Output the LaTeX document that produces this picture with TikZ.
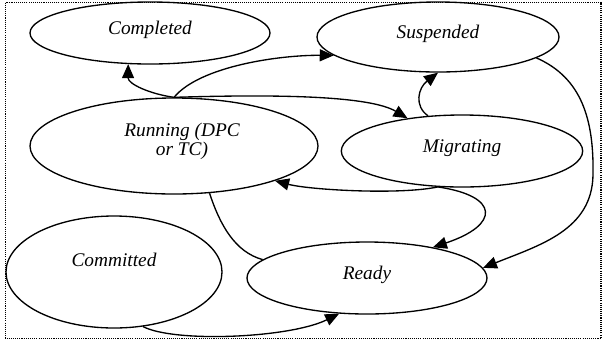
\documentclass[tikz,border=0pt]{standalone}
\usepackage{fontspec}
\setmainfont{Liberation Serif}
\usepackage{tikz}
\usetikzlibrary{shapes.geometric, arrows.meta}
\tikzset{>={Triangle[length=10.5pt,width=9pt]}}
\tikzset{state/.style={draw, ellipse, inner sep=0pt, font=\fontsize{14.5}{14.5}\selectfont\itshape, text height=10pt, text depth=7.5pt}}

\begin{document}
\begin{tikzpicture}[x=0.75pt, y=-0.75pt, line width=1pt]
			\useasboundingbox (0,0) rectangle (603,344);
			\draw [line width=0.8pt, dash pattern=on 0.8pt off 0.8pt] (5.5,2.5) rectangle (601,338.5);
			\node [state, minimum width=180pt, minimum height=46.5pt] (completed) at (150,33) {Completed};
			\node [state, minimum width=181.5pt, minimum height=52.5pt] (suspended) at (438,37) {Suspended};
			\node [state, minimum width=216pt, minimum height=72pt, align=center, text height={}, text depth=10pt] (running) at (174,146) {\hspace*{12pt}Running (DPC\\ \hspace*{12pt}or TC)};
			\node [state, minimum width=181pt, minimum height=54pt] (migrating) at (462,151) {Migrating};
			\node [state, minimum width=162pt, minimum height=84pt, text depth=18pt] (committed) at (114,272) {Committed};
			\node [state, minimum width=180pt, minimum height=54pt] (ready) at (367,278) {Ready};
			\draw [->] (running.north) .. controls (150,94) and (128,84) .. (completed.-125);
			\draw [->] (running.north) .. controls (200,66) and (280,55) .. (suspended.190);
			\draw [->] (running.north) .. controls (280,94) and (370,96) .. (migrating.149);
			\draw [->] (migrating.134) .. controls (414,106) and (418,88) .. (suspended.south);
			\draw [->] (migrating.-124) .. controls (400,195) and (310,190) .. (running.-19);
			\draw [->] (migrating.-124) .. controls (500,196) and (500,225) .. (ready.25);
			\draw [->] (suspended.-12) .. controls (582,78) and (594,120) .. (593,175) .. controls (592,230) and (540,245) .. (ready.5);
			\draw (running.-53) .. controls (220,225) and (235,252) .. (ready.170);
			\draw [->] (committed.-62) .. controls (175,343) and (290,338) .. (ready.-128);
		\end{tikzpicture}
\end{document}
